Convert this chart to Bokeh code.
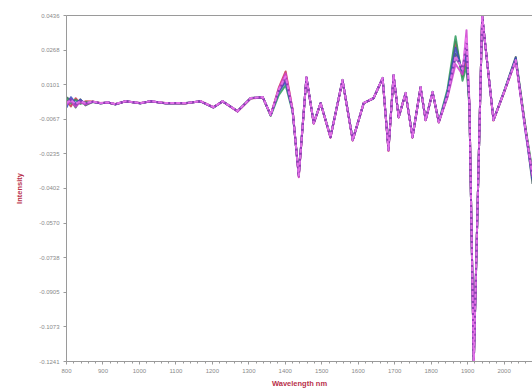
from bokeh.plotting import figure
from bokeh.models import FixedTicker, LinearAxis, Range1d
from bokeh.embed import file_html
from bokeh.resources import INLINE

wavelength = [800, 812, 825, 838, 852, 872, 893, 914, 934, 962, 1003, 1030, 1072, 1126, 1168,
              1203, 1228, 1269, 1305, 1338, 1360, 1382, 1401, 1420, 1437, 1458, 1478, 1497,
              1524, 1557, 1585, 1615, 1642, 1667, 1683, 1697, 1711, 1730, 1749, 1771, 1785,
              1804, 1821, 1845, 1867, 1886, 1897, 1905, 1917, 1930, 1940, 1950, 1971, 2000,
              2032, 2059, 2078]

s_dark = [0.0040, 0.0025, -0.0010, 0.0030, 0.0000, 0.0018, 0.0010, 0.0015, 0.0005, 0.0021,
          0.0010, 0.0021, 0.0010, 0.0012, 0.0019, -0.0010, 0.0021, -0.0027, 0.0036, 0.0041,
          -0.0046, 0.0070, 0.0125, -0.0022, -0.0335, 0.0137, -0.0084, 0.0012, -0.0150, 0.0124,
          -0.0165, 0.0012, 0.0036, 0.0134, -0.0210, 0.0148, -0.0055, 0.0061, -0.0150, 0.0090,
          -0.0069, 0.0066, -0.0078, 0.0045, 0.0250, 0.0170, 0.0270, 0.0002, -0.1250, -0.0300,
          0.0430, 0.0272, -0.0068, 0.0068, 0.0235, -0.0110, -0.0380]
s_red = [0.0025, -0.0005, 0.0035, 0.0010, 0.0020, 0.0019, 0.0012, 0.0013, 0.0007, 0.0019,
         0.0012, 0.0019, 0.0012, 0.0010, 0.0021, -0.0008, 0.0019, -0.0029, 0.0034, 0.0039,
         -0.0048, 0.0085, 0.0165, -0.0018, -0.0345, 0.0135, -0.0088, 0.0010, -0.0156, 0.0120,
         -0.0170, 0.0010, 0.0034, 0.0130, -0.0220, 0.0144, -0.0058, 0.0058, -0.0156, 0.0087,
         -0.0072, 0.0063, -0.0083, 0.0055, 0.0310, 0.0140, 0.0220, 0.0005, -0.1250, -0.0300,
         0.0436, 0.0268, -0.0073, 0.0062, 0.0220, -0.0115, -0.0330]
s_green = [0.0035, 0.0010, 0.0028, 0.0008, 0.0015, 0.0017, 0.0011, 0.0014, 0.0006, 0.0020,
           0.0011, 0.0020, 0.0011, 0.0011, 0.0020, -0.0009, 0.0020, -0.0028, 0.0035, 0.0040,
           -0.0050, 0.0050, 0.0098, -0.0030, -0.0338, 0.0134, -0.0085, 0.0011, -0.0152, 0.0121,
           -0.0166, 0.0011, 0.0035, 0.0131, -0.0213, 0.0145, -0.0056, 0.0059, -0.0152, 0.0088,
           -0.0070, 0.0064, -0.0080, 0.0080, 0.0335, 0.0120, 0.0190, -0.0010, -0.1250, -0.0300,
           0.0433, 0.0270, -0.0070, 0.0066, 0.0225, -0.0110, -0.0320]
s_blue = [-0.0010, 0.0040, 0.0010, 0.0028, 0.0008, 0.0018, 0.0011, 0.0014, 0.0006, 0.0020,
          0.0011, 0.0020, 0.0011, 0.0011, 0.0020, -0.0009, 0.0020, -0.0028, 0.0035, 0.0040,
          -0.0047, 0.0065, 0.0115, -0.0025, -0.0340, 0.0136, -0.0086, 0.0011, -0.0154, 0.0122,
          -0.0168, 0.0011, 0.0035, 0.0132, -0.0216, 0.0146, -0.0057, 0.0059, -0.0154, 0.0088,
          -0.0071, 0.0064, -0.0081, 0.0065, 0.0280, 0.0160, 0.0250, 0.0000, -0.1250, -0.0300,
          0.0436, 0.0270, -0.0071, 0.0066, 0.0230, -0.0130, -0.0360]
s_magenta = [0.0005, 0.0020, -0.0005, 0.0015, 0.0005, 0.0018, 0.0011, 0.0014, 0.0006, 0.0020,
             0.0011, 0.0020, 0.0011, 0.0011, 0.0020, -0.0010, 0.0020, -0.0029, 0.0035, 0.0040,
             -0.0047, 0.0080, 0.0155, -0.0020, -0.0348, 0.0136, -0.0087, 0.0011, -0.0155, 0.0122,
             -0.0169, 0.0011, 0.0035, 0.0132, -0.0218, 0.0146, -0.0058, 0.0059, -0.0155, 0.0088,
             -0.0072, 0.0064, -0.0082, 0.0040, 0.0200, 0.0150, 0.0365, 0.0010, -0.1250, -0.0300,
             0.0436, 0.0270, -0.0071, 0.0064, 0.0215, -0.0125, -0.0345]
s_purple = [0.0015, 0.0030, 0.0005, 0.0022, 0.0011, 0.0018, 0.0011, 0.0014, 0.0006, 0.0020,
            0.0011, 0.0020, 0.0011, 0.0011, 0.0020, -0.0009, 0.0020, -0.0028, 0.0035, 0.0040,
            -0.0047, 0.0074, 0.0130, -0.0023, -0.0342, 0.0136, -0.0086, 0.0011, -0.0154, 0.0122,
            -0.0168, 0.0011, 0.0035, 0.0132, -0.0216, 0.0146, -0.0057, 0.0059, -0.0154, 0.0088,
            -0.0071, 0.0064, -0.0081, 0.0049, 0.0230, 0.0180, 0.0300, 0.0001, -0.1250, -0.0300,
            0.0436, 0.0270, -0.0071, 0.0064, 0.0219, -0.0120, -0.0337]
s_pink = [0.0012, 0.0026, 0.0008, 0.0020, 0.0012, 0.0019, 0.0012, 0.0015, 0.0007, 0.0021,
          0.0012, 0.0021, 0.0012, 0.0012, 0.0021, -0.0008, 0.0021, -0.0027, 0.0036, 0.0041,
          -0.0046, 0.0076, 0.0140, -0.0021, -0.0340, 0.0137, -0.0085, 0.0012, -0.0153, 0.0123,
          -0.0167, 0.0012, 0.0036, 0.0133, -0.0215, 0.0147, -0.0056, 0.0060, -0.0153, 0.0089,
          -0.0070, 0.0065, -0.0080, 0.0050, 0.0240, 0.0175, 0.0330, 0.0003, -0.1250, -0.0300,
          0.0436, 0.0272, -0.0070, 0.0065, 0.0220, -0.0118, -0.0335]

series = [s_dark, s_red, s_green, s_blue, s_magenta, s_purple, s_pink]
colors = ["#3f5a5c", "#c8364a", "#2a9a5a", "#3a4bbf", "#d040d0", "#8a3cb4", "#f07af0"]
dashes = ["solid", "solid", "solid", "solid", "solid", "solid", "4 2"]

y_ticks = [0.0436, 0.0268, 0.0101, -0.0067, -0.0235, -0.0402, -0.0570, -0.0738, -0.0905, -0.1073, -0.1241]
y_tick_labels = ["0.0436", "0.0268", "0.0101", "-0.0067", "-0.0235", "-0.0402", "-0.0570",
                 "-0.0738", "-0.0905", "-0.1073", "-0.1241"]
x_ticks = [800, 900, 1000, 1100, 1200, 1300, 1400, 1500, 1600, 1700, 1800, 1900, 2000, 2100]

p = figure(width=532, height=390, output_backend="svg", toolbar_location=None,
           x_range=Range1d(800, 2078), y_range=Range1d(-0.1241, 0.0436),
           min_border_left=66, min_border_right=0, min_border_top=15, min_border_bottom=28)
p.outline_line_color = None
p.xgrid.visible = False
p.ygrid.visible = False
p.background_fill_color = "white"
p.border_fill_color = "white"

for s, c, d in zip(series, colors, dashes):
    p.line(wavelength, s, line_color=c, line_width=2.0, line_alpha=0.85, line_dash=d,
           line_join="round")

axis_col = "#9a9a9a"
lab_col = "#b8304a"

xa = p.xaxis[0]
xa.ticker = FixedTicker(ticks=x_ticks, minor_ticks=list(range(800, 2100, 20)))
xa.axis_label = "Wavelength nm"
xa.axis_label_text_font = "Liberation Sans"
xa.axis_label_text_font_size = "7.5px"
xa.axis_label_text_font_style = "bold"
xa.axis_label_text_color = lab_col
xa.axis_label_standoff = 3
xa.major_label_text_font = "Liberation Sans"
xa.major_label_text_font_size = "6px"
xa.major_label_text_color = "#8a8a8a"
xa.major_label_standoff = 4
xa.axis_line_color = axis_col
xa.major_tick_line_color = axis_col
xa.minor_tick_line_color = axis_col
xa.major_tick_out = 3
xa.major_tick_in = 0
xa.minor_tick_out = 2
xa.minor_tick_in = 0

ya = p.yaxis[0]
ya.ticker = FixedTicker(ticks=y_ticks)
ya.major_label_overrides = {t: l for t, l in zip(y_ticks, y_tick_labels)}
ya.axis_label = "Intensity"
ya.axis_label_text_font = "Liberation Sans"
ya.axis_label_text_font_size = "7.5px"
ya.axis_label_text_font_style = "bold"
ya.axis_label_text_color = lab_col
ya.axis_label_standoff = 12
ya.major_label_text_font = "Liberation Sans"
ya.major_label_text_font_size = "6px"
ya.major_label_text_color = "#8a8a8a"
ya.major_label_standoff = 4
ya.axis_line_color = axis_col
ya.major_tick_line_color = axis_col
ya.minor_tick_line_color = None
ya.major_tick_out = 3
ya.major_tick_in = 0

top = LinearAxis(major_tick_line_color=None, minor_tick_line_color=None,
                 major_label_text_font_size="0px", axis_line_color=axis_col)
top.ticker = FixedTicker(ticks=[])
p.add_layout(top, "above")

open("out.html", "w").write(file_html(p, INLINE))
